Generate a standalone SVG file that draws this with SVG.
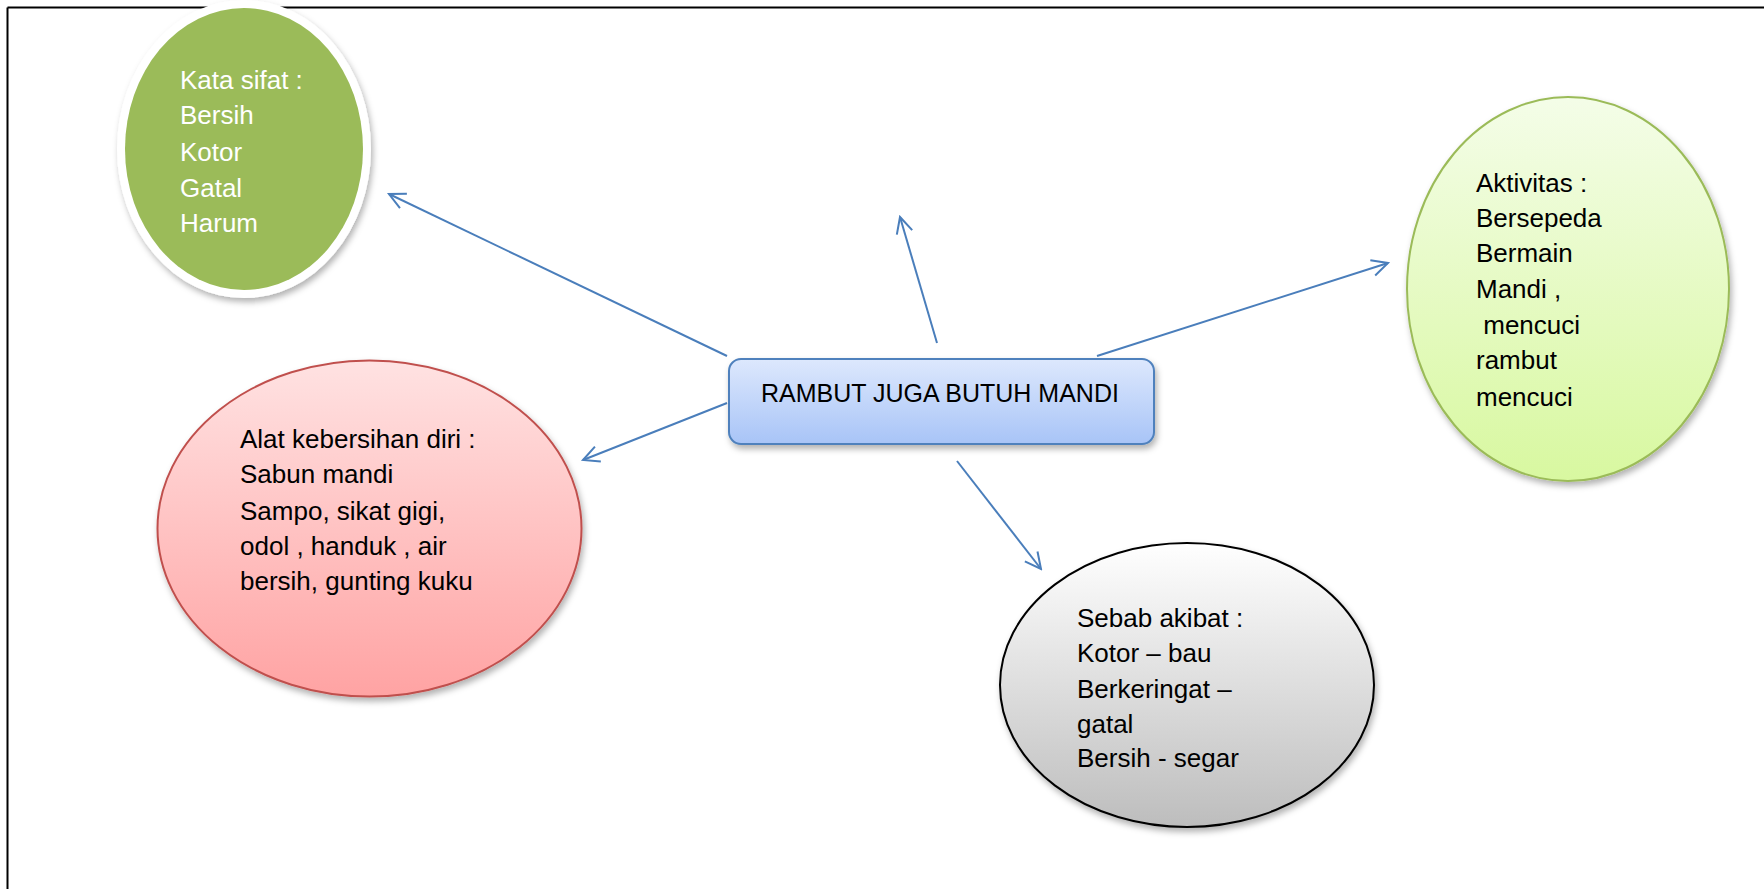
<svg xmlns="http://www.w3.org/2000/svg" width="1764" height="889" viewBox="0 0 1764 889">
<style>
text{font-family:"Liberation Sans",Arial,sans-serif;font-size:26px;fill:#000}
.ct{font-size:25px}
.wt{fill:#fff}
.conn line{stroke:#4a7ebb;stroke-width:2;fill:none}
</style>
<defs>
<filter id="sh" x="-20%" y="-20%" width="140%" height="140%">
<feDropShadow dx="2" dy="4" stdDeviation="3" flood-color="#000" flood-opacity="0.3"/>
</filter>
<linearGradient id="gBlue" x1="0" y1="0" x2="0" y2="1"><stop offset="0" stop-color="#dde8fd"/><stop offset="1" stop-color="#a8c4f7"/></linearGradient>
<linearGradient id="gRed" x1="0" y1="0" x2="0" y2="1"><stop offset="0" stop-color="#ffe2e2"/><stop offset="1" stop-color="#ffa3a3"/></linearGradient>
<linearGradient id="gLime" x1="0" y1="0" x2="0" y2="1"><stop offset="0" stop-color="#f4fde8"/><stop offset="1" stop-color="#d8f8a0"/></linearGradient>
<linearGradient id="gGray" x1="0" y1="0" x2="0" y2="1"><stop offset="0" stop-color="#ffffff"/><stop offset="1" stop-color="#bdbdbd"/></linearGradient>
<marker id="arr" viewBox="0 0 20 20" refX="18" refY="10" markerWidth="20" markerHeight="20" markerUnits="userSpaceOnUse" orient="auto">
<path d="M2,2 L18,10 L2,18" fill="none" stroke="#4a7ebb" stroke-width="2"/>
</marker>
</defs>
<rect width="1764" height="889" fill="#fff"/>
<g id="frame">
<line x1="7.5" y1="7.5" x2="1764" y2="7.5" stroke="#000" stroke-width="2"/>
<line x1="7.5" y1="7.5" x2="7.5" y2="889" stroke="#000" stroke-width="2"/>
</g>
<g class="conn" id="connectors">
<line x1="727" y1="356" x2="389" y2="194" marker-end="url(#arr)"/>
<line x1="937" y1="343" x2="900" y2="217" marker-end="url(#arr)"/>
<line x1="1097" y1="356" x2="1388" y2="263" marker-end="url(#arr)"/>
<line x1="727" y1="403" x2="583" y2="460" marker-end="url(#arr)"/>
<line x1="957" y1="461" x2="1041" y2="569" marker-end="url(#arr)"/>
</g>
<g id="node-kata-sifat">
<ellipse cx="244" cy="149" rx="127" ry="149" fill="#fff" filter="url(#sh)"/>
<ellipse cx="244" cy="149" rx="119" ry="141" fill="#9bbb59"/>
<text class="wt" x="180" y="89">Kata sifat :</text>
<text class="wt" x="180" y="124">Bersih</text>
<text class="wt" x="180" y="161">Kotor</text>
<text class="wt" x="180" y="197">Gatal</text>
<text class="wt" x="180" y="232">Harum</text>
</g>
<g id="node-center">
<rect x="729" y="359" width="425" height="85" rx="12" fill="url(#gBlue)" stroke="#4f81bd" stroke-width="2" filter="url(#sh)"/>
<text class="ct" x="761" y="402">RAMBUT JUGA BUTUH MANDI</text>
</g>
<g id="node-aktivitas">
<ellipse cx="1568" cy="289" rx="161" ry="192" fill="url(#gLime)" stroke="#9bbb59" stroke-width="2" filter="url(#sh)"/>
<text x="1476" y="192">Aktivitas :</text>
<text x="1476" y="227">Bersepeda</text>
<text x="1476" y="262">Bermain</text>
<text x="1476" y="298">Mandi ,</text>
<text x="1476" y="334" xml:space="preserve"> mencuci</text>
<text x="1476" y="369">rambut</text>
<text x="1476" y="406">mencuci</text>
</g>
<g id="node-alat">
<ellipse cx="369.5" cy="528.5" rx="212" ry="168" fill="url(#gRed)" stroke="#c0504d" stroke-width="2" filter="url(#sh)"/>
<text x="240" y="448">Alat kebersihan diri :</text>
<text x="240" y="483">Sabun mandi</text>
<text x="240" y="520">Sampo, sikat gigi,</text>
<text x="240" y="555">odol , handuk , air</text>
<text x="240" y="590">bersih, gunting kuku</text>
</g>
<g id="node-sebab">
<ellipse cx="1187" cy="685" rx="187" ry="142" fill="url(#gGray)" stroke="#000" stroke-width="2" filter="url(#sh)"/>
<text x="1077" y="627">Sebab akibat :</text>
<text x="1077" y="662">Kotor – bau</text>
<text x="1077" y="698">Berkeringat –</text>
<text x="1077" y="733">gatal</text>
<text x="1077" y="767">Bersih - segar</text>
</g>
</svg>
